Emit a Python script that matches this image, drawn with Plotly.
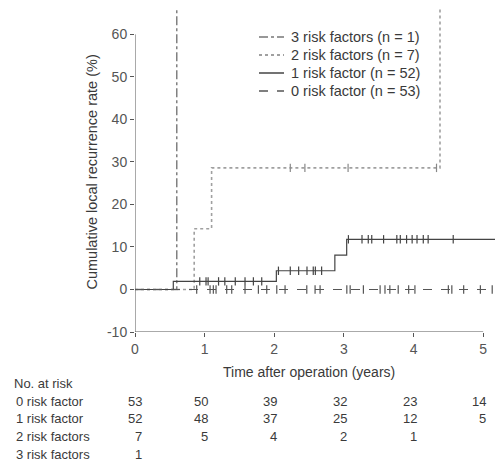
import plotly.graph_objects as go

# ---- data ----
groups = ["3 risk factors (n = 1)", "2 risk factors (n = 7)", "1 risk factor (n = 52)", "0 risk factor (n = 53)"]

t3 = [0, 0.60, 0.60]
s3 = [0, 0, 100]

t2 = [0, 0.85, 1.10, 4.38, 4.38]
s2 = [0, 14.3, 28.6, 28.6, 100]
c2_t = [2.23, 2.44, 3.06, 4.33]
c2_y = [28.6, 28.6, 28.6, 28.6]

t1 = [0, 0.55, 2.03, 2.87, 3.04, 5.17]
s1 = [0, 1.9, 4.4, 8.1, 11.8, 11.8]
c1_t = [0.93, 1.02, 1.05, 1.20, 1.29, 1.44, 1.58, 1.70, 1.82,
        2.06, 2.23, 2.35, 2.47, 2.56, 2.59, 2.68,
        3.065, 3.26, 3.35, 3.40, 3.57, 3.76, 3.81, 3.90, 3.98, 4.05, 4.14, 4.21, 4.57]
c1_y = [1.9] * 9 + [4.4] * 7 + [11.8] * 13

t0 = [0, 5.17]
s0 = [0, 0]
c0_t = [0.886, 1.078, 1.125, 1.164, 1.317, 1.389, 1.580, 1.772, 1.892, 2.036, 2.155,
        2.467, 2.586, 2.658, 3.042, 3.09, 3.28, 3.52, 3.59, 3.66, 3.78, 3.93, 4.02,
        4.50, 4.55, 4.72, 4.96, 5.13]
c0_y = [0] * len(c0_t)

risk_times = [0, 1, 2, 3, 4, 5]
risk_labels = ["0 risk factor", "1 risk factor", "2 risk factors", "3 risk factors"]
risk_0 = [53, 50, 39, 32, 23, 14]
risk_1 = [52, 48, 37, 25, 12, 5]
risk_2 = [7, 5, 4, 2, 1, None]
risk_3 = [1, None, None, None, None, None]

x_ticks = [0, 1, 2, 3, 4, 5]
y_ticks = [-10, 0, 10, 20, 30, 40, 50, 60]
y_tick_labels = ["-10", "0", "10", "20", "30", "40", "50", "60"]

# ---- layout helpers (pixel geometry of the plot area) ----
L, T, B, W, H = 135, 8, 131, 495, 463
PW, PH = W - L, H - T - B


def px_x(px):
    return (px - L) / PW


def px_y(py):
    return (H - B - py) / PH


FONT = "Liberation Sans, Arial, sans-serif"
TXT = "#3a3a3a"
fig = go.Figure()

styles = [
    dict(color="#777777", width=1.4, dash="dashdot"),
    dict(color="#a0a0a0", width=1.6, dash="dot"),
    dict(color="#444444", width=1.2, dash="solid"),
    dict(color="#555555", width=1.1, dash="dash"),
]
curves = [(t3, s3), (t2, s2), (t1, s1), (t0, s0)]
for name, (tt, ss), st in zip(groups, curves, styles):
    fig.add_trace(go.Scatter(x=tt, y=ss, mode="lines", line=dict(shape="hv", **st),
                             name=name, showlegend=False))

for ct, cy, col in [(c2_t, c2_y, "#888888"), (c1_t, c1_y, "#444444"), (c0_t, c0_y, "#555555")]:
    fig.add_trace(go.Scatter(x=ct, y=cy, mode="markers", showlegend=False,
                             marker=dict(symbol="line-ns-open", size=6, color=col,
                                         line=dict(color=col, width=1.2))))

# axis lines (only over 0..5 and -10..60)
fig.add_shape(type="line", xref="x", yref="y", x0=0, x1=5, y0=-10, y1=-10,
              line=dict(color="#555555", width=1))
fig.add_shape(type="line", xref="x", yref="y", x0=0, x1=0, y0=-10, y1=60,
              line=dict(color="#555555", width=1))

annotations = []
# legend (drawn manually for tight row spacing)
for i, (name, st) in enumerate(zip(groups, styles)):
    py = 37 + i * 18
    fig.add_shape(type="line", xref="paper", yref="paper",
                  x0=px_x(259), x1=px_x(284), y0=px_y(py), y1=px_y(py),
                  line=dict(color=st["color"], width=st["width"] + 0.3, dash=st["dash"]))
    annotations.append(dict(text=name, xref="paper", yref="paper", x=px_x(289), y=px_y(py),
                            xanchor="left", yanchor="middle", showarrow=False,
                            font=dict(size=14.5, color=TXT, family=FONT)))

annotations.append(dict(text="Time after operation (years)", xref="x", yref="paper",
                        x=2.5, y=0, yshift=-40, xanchor="center", yanchor="middle",
                        showarrow=False, font=dict(size=14, color=TXT, family=FONT)))
annotations.append(dict(text="Cumulative local recurrence rate (%)", xref="paper", yref="y",
                        x=0, xshift=-43, y=27.5, textangle=-90, xanchor="center", yanchor="middle",
                        showarrow=False, font=dict(size=14.5, color=TXT, family=FONT)))
annotations.append(dict(text="No. at risk", xref="paper", yref="paper", x=0, y=0,
                        xshift=-123, yshift=-51, xanchor="left", yanchor="middle",
                        showarrow=False, font=dict(size=13, color=TXT, family=FONT)))
row_vals = [risk_0, risk_1, risk_2, risk_3]
for i, (lab, vals) in enumerate(zip(risk_labels, row_vals)):
    ys = -69 - i * 17.7
    annotations.append(dict(text=lab, xref="paper", yref="paper", x=0, y=0,
                            xshift=-121, yshift=ys, xanchor="left", yanchor="middle",
                            showarrow=False, font=dict(size=13, color=TXT, family=FONT)))
    for tx, v in zip(risk_times, vals):
        if v is None:
            continue
        annotations.append(dict(text=str(v), xref="x", yref="paper", x=tx, y=0,
                                xshift=(9 if tx == 0 else 5), yshift=ys,
                                xanchor="right", yanchor="middle", showarrow=False,
                                font=dict(size=13, color=TXT, family=FONT)))

fig.update_layout(
    width=W, height=H,
    margin=dict(l=L, r=0, t=T, b=B),
    paper_bgcolor="white", plot_bgcolor="white",
    font=dict(family=FONT, size=14, color=TXT),
    showlegend=False,
    xaxis=dict(range=[0, 5.17], tickvals=x_ticks, showgrid=False, zeroline=False,
               showline=False, ticks="outside", ticklen=4, tickcolor="#555555",
               tickfont=dict(size=14, color="#555555")),
    yaxis=dict(range=[-10, 66.2], tickvals=y_ticks, ticktext=y_tick_labels,
               showgrid=False, zeroline=False,
               showline=False, ticks="outside", ticklen=4, tickcolor="#555555",
               tickfont=dict(size=14, color="#555555")),
    annotations=annotations,
)

fig.write_html("out.html")
